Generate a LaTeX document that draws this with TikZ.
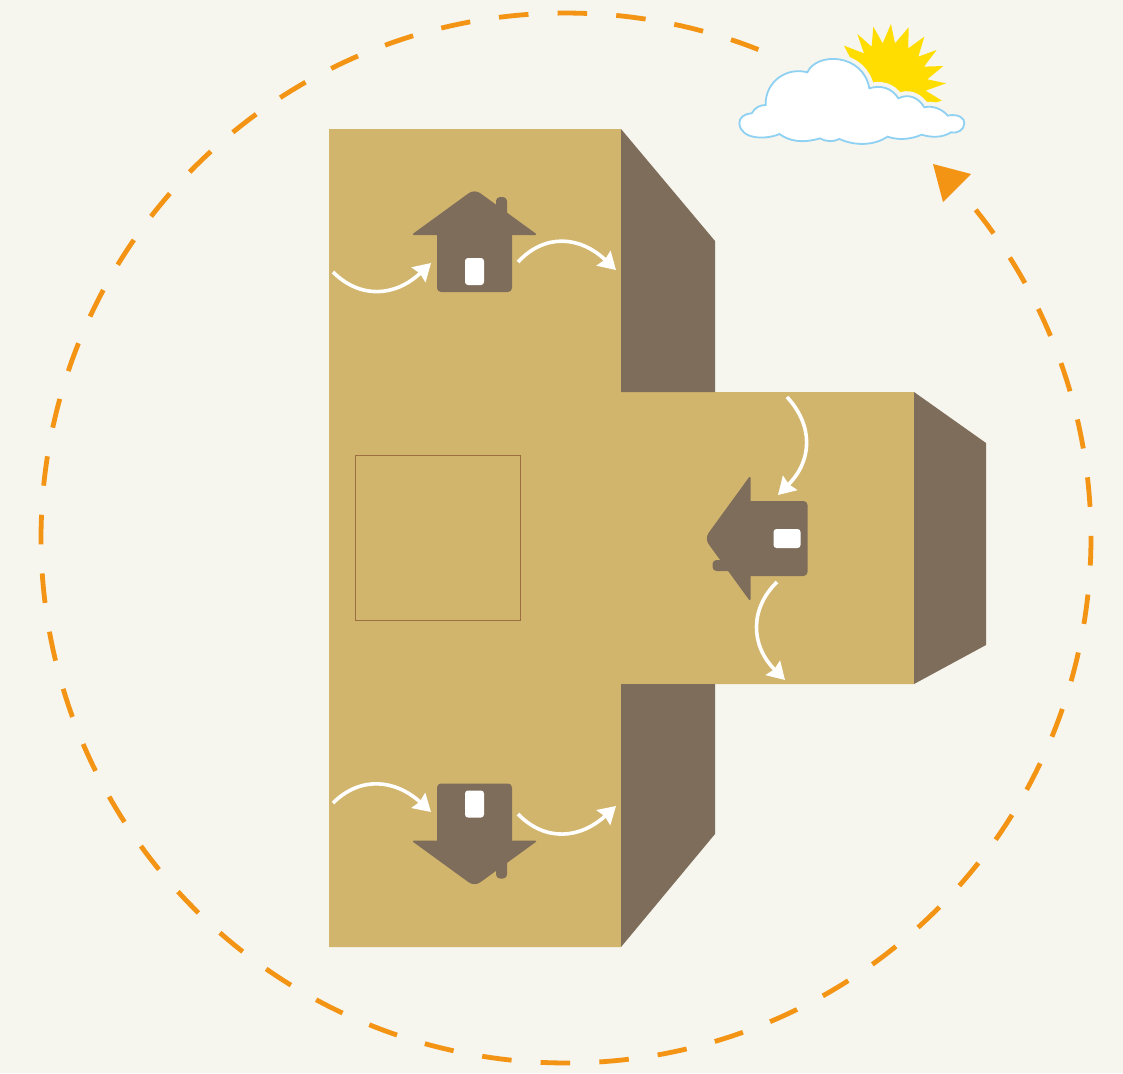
\documentclass[tikz,border=0pt]{standalone}
\usetikzlibrary{arrows.meta}

\tikzset{
    houseShape/.pic={
        % Walls, roof, chimney and window
        \fill[houseColour, rounded corners=2pt] (-37.5,-12) rectangle (37.5,50.5);
        \fill[houseColour] (21.5,-30) [rounded corners=2pt] -- (21.5,-44.5) -- (32.5,-44.5) [sharp corners] -- (32.5,-20) -- cycle;
        \fill[houseColour] (-60.5,-6.5) -- (60.5,-6.5) -- (61.5,-7) -- (61.5,-7.8) [rounded corners=3.5pt] -- (0,-52.5)
            [sharp corners] -- (-61.5,-7.8) -- (-61.5,-7) -- cycle;
        \fill[white, rounded corners=1.5pt] (-9.5,16.5) rectangle (9.5,43.5);
    },
    flowArrow/.style={white, line width=1.8pt, -{Stealth[length=8.5pt,width=10pt,inset=0.9pt]}}
}

\begin{document}
\begin{tikzpicture}[x=0.5pt, y=-0.5pt]
    \definecolor{paperColour}{HTML}{F6F5EE}
    \definecolor{baseColour}{HTML}{D2B56D}
    \definecolor{houseColour}{HTML}{7E6D5B}
    \definecolor{squareColour}{HTML}{9B6F3F}
    \definecolor{pathColour}{HTML}{F39414}
    \definecolor{sunColour}{HTML}{FFDD00}
    \definecolor{cloudColour}{HTML}{8FD1F2}

    % Background
    \fill[paperColour] (0,0) rectangle (1123,1073);
    \useasboundingbox (0,0) rectangle (1123,1073);

    % Sun path: dashed circle and its arrow head
    \def\pathRadius{525}
    \draw[pathColour, line width=2.4pt, dash pattern=on 14.8pt off 14.575pt, domain=-38.7:291.5, samples=300]
        plot ({566+\pathRadius*cos(\x)},{538+\pathRadius*sin(\x)});
    \fill[pathColour] (933,164) -- (971,174) -- (943,202) -- cycle;

    % Base: vertices of the main block
    \coordinate (B1) at (329,129);
    \coordinate (B2) at (621,129);
    \coordinate (B3) at (621,392);
    \coordinate (B4) at (914,392);
    \coordinate (B5) at (914,684);
    \coordinate (B6) at (621,684);
    \coordinate (B7) at (621,947);
    \coordinate (B8) at (329,947);

    \fill[baseColour] (B1) -- (B2) -- (B3) -- (B4) -- (B5) -- (B6) -- (B7) -- (B8) -- cycle;

    % Shaded faces
    \fill[houseColour] (B2) -- (715,241) -- (715,392) -- (B3) -- cycle;
    \fill[houseColour] (B4) -- (986,443) -- (986,645) -- (B5) -- cycle;
    \fill[houseColour] (B6) -- (715,684) -- (715,834) -- (B7) -- cycle;

    % Inner square
    \draw[squareColour, line width=0.5pt] (355.5,455.5) rectangle (520.5,620.5);

    % Houses
    \pic at (474.5,241.5) {houseShape};
    \pic[rotate=90, xscale=-1] at (757,538.5) {houseShape};
    \pic[yscale=-1] at (474.5,834) {houseShape};

    % Air flow around the top house
    \coordinate (T1) at (333,272);
    \coordinate (T2) at (431,263);
    \coordinate (T3) at (518,262);
    \coordinate (T4) at (616,270);
    \draw[flowArrow] (T1) .. controls (360,299) and (395,297) .. (T2);
    \draw[flowArrow] (T3) .. controls (545,233) and (580,236) .. (T4);

    % Air flow around the right house
    \coordinate (R1) at (787,397);
    \coordinate (R2) at (778,495);
    \coordinate (R3) at (777,582);
    \coordinate (R4) at (785,680);
    \draw[flowArrow] (R1) .. controls (813,425) and (813,460) .. (R2);
    \draw[flowArrow] (R3) .. controls (750,608) and (750,645) .. (R4);

    % Air flow around the bottom house
    \coordinate (L1) at (333,803);
    \coordinate (L2) at (431,812);
    \coordinate (L3) at (518,814);
    \coordinate (L4) at (616,806);
    \draw[flowArrow] (L1) .. controls (360,776) and (395,779) .. (L2);
    \draw[flowArrow] (L3) .. controls (545,842) and (580,839) .. (L4);

    % Sun rays, read off a 3x crop
    \begin{scope}[shift={(720,10)}, scale=0.3333]
        \fill[sunColour] (372,107) -- (432,130) -- (412,72) -- (455,110) -- (460,50) -- (488,100) -- (513,42)
            -- (525,100) -- (566,52) -- (565,115) -- (613,80) -- (595,140) -- (650,120) -- (612,170)
            -- (670,168) -- (622,208) -- (678,220) -- (617,242) -- (666,272) -- (560,300) -- (440,240) -- cycle;

        % Cloud, first its halo and then its outline
        \def\cloudPath{(95,310) .. controls (105,292) and (120,285) .. (137,285)
            .. controls (135,215) and (200,170) .. (262,187)
            .. controls (290,125) and (430,130) .. (448,235)
            .. controls (480,225) and (515,232) .. (535,265)
            .. controls (565,250) and (595,262) .. (613,292)
            .. controls (640,285) and (670,300) .. (683,317)
            .. controls (715,310) and (735,325) .. (733,340)
            .. controls (733,360) and (710,372) .. (693,367)
            .. controls (665,385) and (630,382) .. (605,374)
            .. controls (570,390) and (530,390) .. (503,380)
            .. controls (465,405) and (410,410) .. (358,387)
            .. controls (340,396) and (320,396) .. (300,385)
            .. controls (250,400) and (210,395) .. (178,372)
            .. controls (145,388) and (62,392) .. (58,340)
            .. controls (58,322) and (72,312) .. (95,310) -- cycle}
        \draw[paperColour, line width=5pt] \cloudPath;
        \filldraw[fill=white, draw=cloudColour, line width=0.9pt] \cloudPath;
    \end{scope}
\end{tikzpicture}
\end{document}
